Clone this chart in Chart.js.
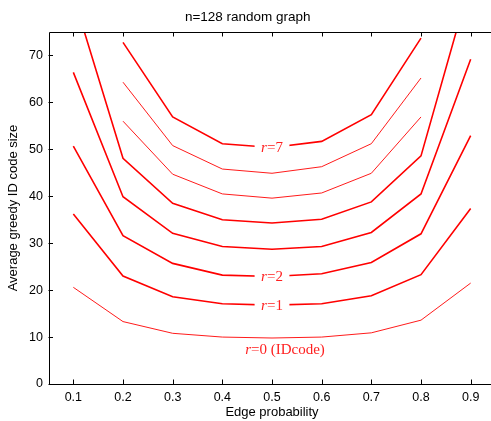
<!DOCTYPE html>
<html>
<head>
<meta charset="utf-8">
<title>n=128 random graph</title>
<script src="https://cdn.jsdelivr.net/npm/chart.js"></script>
<style>
    html, body { margin: 0; padding: 0; overflow: hidden; background: #fff; }
</style>
</head>
<body>
<canvas id="myChart" width="497" height="421"></canvas>

<script>
    // edge probability (x) and average greedy ID code size per r
    var edgeProb = [0.1, 0.2, 0.3, 0.4, 0.5, 0.6, 0.7, 0.8, 0.9];
    var r0 = [20.6, 13.3, 10.8, 10.0, 9.8, 10.0, 10.9, 13.6, 21.5];
    var r1 = [36.2, 23.0, 18.6, 17.1, 16.8, 17.1, 18.8, 23.3, 37.4];
    var r2 = [50.7, 31.6, 25.7, 23.2, 22.9, 23.5, 25.9, 32.0, 52.9];
    var r3 = [66.4, 39.9, 32.1, 29.3, 28.7, 29.3, 32.3, 40.5, 69.2];
    var r4 = [82.7, 48.1, 38.5, 35.0, 34.3, 35.1, 38.8, 48.6, 85.9];
    var r5 = [null, 56.0, 44.7, 40.5, 39.6, 40.7, 44.9, 56.9, null];
    var r6 = [null, 64.3, 50.8, 45.8, 44.9, 46.3, 51.2, 65.2, null];
    var r7 = [null, 72.8, 56.9, 51.2, 50.4, 51.7, 57.4, 73.7, null];

    var xTicks = [0.1, 0.2, 0.3, 0.4, 0.5, 0.6, 0.7, 0.8, 0.9];
    var yTicks = [0, 10, 20, 30, 40, 50, 60, 70];

    var sans = "'Liberation Sans', Arial, Helvetica, sans-serif";
    var serif = "'Liberation Serif', 'Times New Roman', serif";

    function pts(arr) {
        return edgeProb.map(function(x, i) { return { x: x, y: arr[i] }; });
    }

    function line(label, arr, width) {
        return {
            label: label,
            data: pts(arr),
            borderColor: "#ff0000",
            borderWidth: width,
            pointRadius: 0,
            tension: 0,
            fill: false,
            spanGaps: false
        };
    }

    // frame with inward ticks, and the r= labels on the curves
    var decor = {
        id: 'decor',
        afterDatasetsDraw: function(chart) {
            var ctx = chart.ctx;
            var a = chart.chartArea;
            var xs = chart.scales.x, ys = chart.scales.y;
            ctx.save();

            function curveLabel(ds, value, rest, dx, dy, gap) {
                var px = xs.getPixelForValue(0.5) + dx;
                var py = ys.getPixelForValue(value) + dy;
                ctx.font = "italic 15px " + serif;
                var w1 = ctx.measureText("r").width;
                ctx.font = "15px " + serif;
                var w2 = ctx.measureText(rest).width;
                var w = w1 + w2;
                if (gap) {
                    ctx.fillStyle = "#fff";
                    ctx.fillRect(px - w / 2 - 6.5, py - 6, w + 13, 12);
                }
                ctx.fillStyle = "#ff2020";
                ctx.textBaseline = "middle";
                ctx.textAlign = "left";
                ctx.font = "italic 15px " + serif;
                ctx.fillText("r", px - w / 2, py + 1);
                ctx.font = "15px " + serif;
                ctx.fillText(rest, px - w / 2 + w1, py + 1);
            }
            curveLabel(7, r7[4], "=7", 0, 0, true);
            curveLabel(2, r2[4], "=2", 0, 0, true);
            curveLabel(1, r1[4], "=1", 0, 0, true);
            curveLabel(0, r0[4], "=0 (IDcode)", 13, 11, false);

            ctx.strokeStyle = "#000";
            ctx.lineWidth = 1;
            ctx.beginPath();
            ctx.rect(Math.round(a.left) + 0.5, Math.round(a.top) + 0.5,
                Math.round(a.right - a.left), Math.round(a.bottom - a.top));
            xTicks.forEach(function(v) {
                var x = Math.round(xs.getPixelForValue(v)) + 0.5;
                ctx.moveTo(x, a.bottom);
                ctx.lineTo(x, a.bottom - 4.5);
                ctx.moveTo(x, a.top);
                ctx.lineTo(x, a.top + 4.5);
            });
            yTicks.forEach(function(v) {
                var y = Math.round(ys.getPixelForValue(v)) + 0.5;
                ctx.moveTo(a.left, y);
                ctx.lineTo(a.left + 4.5, y);
                ctx.moveTo(a.right, y);
                ctx.lineTo(a.right - 4.5, y);
            });
            ctx.stroke();
            ctx.restore();
        }
    };

    var ctx = document.getElementById("myChart");
    var myChart = new Chart(ctx, {
        type: 'line',
        data: {
            datasets: [
                line('r=0', r0, 0.9),
                line('r=1', r1, 1.6),
                line('r=2', r2, 1.6),
                line('r=3', r3, 1.6),
                line('r=4', r4, 1.6),
                line('r=5', r5, 0.9),
                line('r=6', r6, 0.9),
                line('r=7', r7, 1.6)
            ]
        },
        options: {
            responsive: false,
            animation: false,
            layout: { padding: { left: 0, right: 1.5, top: 0, bottom: 0 } },
            plugins: {
                legend: { display: false },
                tooltip: { enabled: false },
                title: {
                    display: true,
                    text: 'n=128 random graph',
                    color: '#000',
                    font: { family: sans, size: 13.5, weight: 'normal' },
                    padding: { top: 9.4, bottom: 6.4 }
                }
            },
            scales: {
                x: {
                    type: 'linear',
                    min: 0.05,
                    max: 0.95,
                    grid: { display: false, drawTicks: false },
                    border: { display: false },
                    afterBuildTicks: function(s) {
                        s.ticks = xTicks.map(function(v) { return { value: v }; });
                    },
                    afterFit: function(s) { s.height = 37; },
                    ticks: {
                        color: '#000',
                        font: { family: sans, size: 12.5 },
                        padding: 6.5,
                        maxRotation: 0,
                        autoSkip: false,
                        callback: function(v) { return v.toFixed(1); }
                    },
                    title: {
                        display: true,
                        text: 'Edge probability',
                        color: '#000',
                        font: { family: sans, size: 13 },
                        padding: { top: 0, bottom: 0.7 }
                    }
                },
                y: {
                    min: 0,
                    max: 75,
                    grid: { display: false, drawTicks: false },
                    border: { display: false },
                    afterBuildTicks: function(s) {
                        s.ticks = yTicks.map(function(v) { return { value: v }; });
                    },
                    afterFit: function(s) { s.width = 48.5; },
                    ticks: {
                        color: '#000',
                        font: { family: sans, size: 12.5 },
                        padding: 5.5,
                        autoSkip: false
                    },
                    title: {
                        display: true,
                        text: 'Average greedy ID code size',
                        color: '#000',
                        font: { family: sans, size: 13 },
                        padding: { top: 5.7, bottom: 0 }
                    }
                }
            }
        },
        plugins: [decor]
    });
</script>
</body>
</html>
